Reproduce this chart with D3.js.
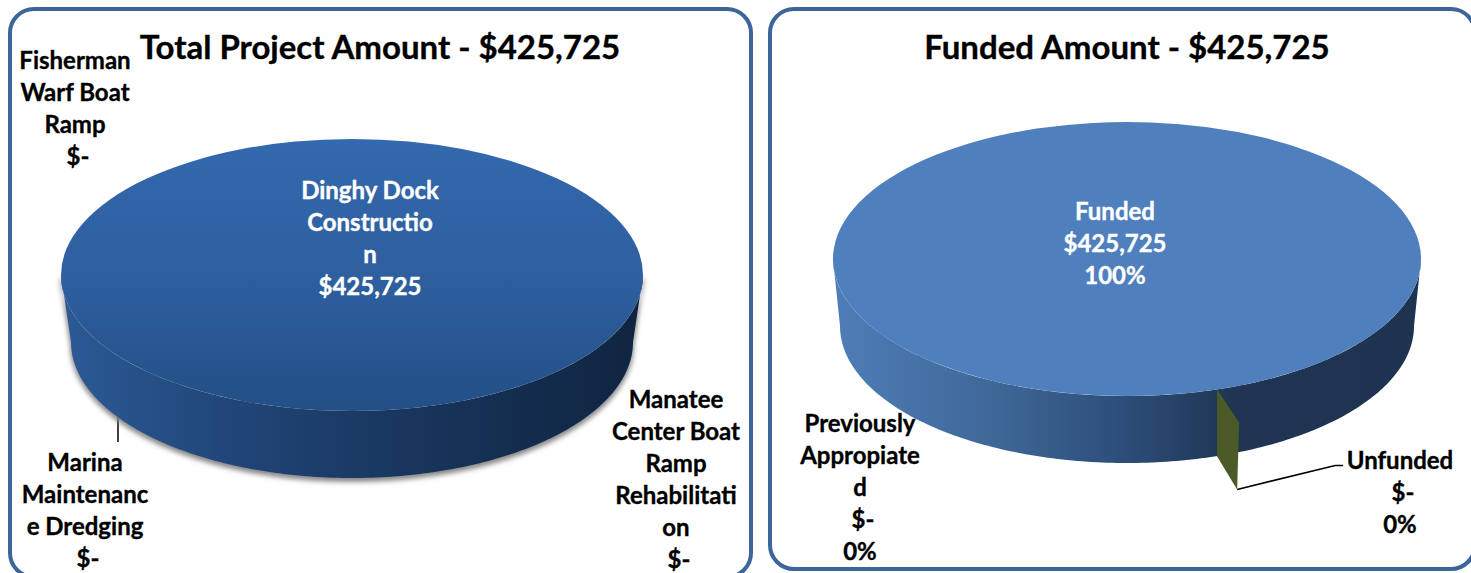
<!DOCTYPE html>
<html>
<head>
<meta charset="utf-8">
<script src="https://cdn.jsdelivr.net/npm/d3@7"></script>
<style>
  html, body { margin: 0; padding: 0; background: #fff; overflow: hidden; }
  text { font-family: Lato, "Open Sans", sans-serif; font-weight: 700; text-anchor: middle; stroke-width: 0.35; }
</style>
</head>
<body>
<div id="chart"></div>
<script>
// values
const projectNames = ["Dinghy Dock Construction", "Manatee Center Boat Ramp Rehabilitation", "Marina Maintenance Dredging", "Fisherman Warf Boat Ramp"];
const projectValues = [425725, 0, 0, 0];
const fundNames = ["Funded", "Unfunded", "Previously Appropiated"];
const fundValues = [425725, 0, 0];

const width = 1471;
const height = 573;

const svg = d3.select("#chart").append("svg")
    .attr("width", width)
    .attr("height", height);

const defs = svg.append("defs");

const addGradient = (id, x2, y2, stops) => {
    const g = defs.append("linearGradient").attr("id", id)
        .attr("x1", 0).attr("y1", 0).attr("x2", x2).attr("y2", y2);
    stops.forEach(s => g.append("stop").attr("offset", s[0]).attr("stop-color", s[1]));
};
addGradient("topLeft", 0, 1, [[0, "#3369ae"], [0.5, "#2e5f9f"], [1, "#234f86"]]);
addGradient("sideLeft", 1, 0, [[0, "#2c5a96"], [0.3, "#204577"], [0.65, "#173358"], [1, "#0f2440"]]);
addGradient("sideRight", 1, 0, [[0, "#4e7db8"], [0.27, "#3f6898"], [0.5, "#2c4d78"], [0.68, "#1f3553"], [1, "#1e3350"]]);
defs.append("filter").attr("id", "blur").append("feGaussianBlur").attr("stdDeviation", 2.5);

// panel frames
const frames = [
    { x: 10, y: 9, w: 741, h: 568 },
    { x: 770, y: 9, w: 705, h: 560 }
];
svg.selectAll("rect.frame")
    .data(frames).enter()
    .append("rect")
    .attr("class", "frame")
    .attr("x", d => d.x).attr("y", d => d.y)
    .attr("width", d => d.w).attr("height", d => d.h)
    .attr("rx", 24)
    .attr("fill", "#fff")
    .attr("stroke", "#3c6699")
    .attr("stroke-width", 4);

// flat pie seen from above: top is a squashed d3.arc, wall is an area along the front rim
const drawPie = (opt) => {
    const g = svg.append("g");
    const slices = d3.pie().sort(null)
        .startAngle(opt.start).endAngle(opt.start + 2 * Math.PI)(opt.values);
    const squash = opt.ry / opt.rx;
    const rx = d3.scaleLinear().domain([-1, 1]).range([opt.cx - opt.rx, opt.cx + opt.rx]);
    const ry = d3.scaleLinear().domain([-1, 1]).range([opt.cy - opt.ry, opt.cy + opt.ry]);
    // bottom rim is a bit narrower, the pie is drawn in perspective
    const rxBottom = d3.scaleLinear().domain([-1, 1]).range([opt.cx - opt.rxBottom, opt.cx + opt.rxBottom]);

    const front = d3.range(0, 181).map(i => Math.PI / 2 + i * Math.PI / 180);
    const wall = d3.area()
        .x0(a => rx(Math.sin(a)))
        .x1(a => rxBottom(Math.sin(a)))
        .y0(a => ry(-Math.cos(a)))
        .y1(a => ry(-Math.cos(a)) + opt.depth);

    if (opt.shadow) {
        g.append("path").datum(front)
            .attr("d", wall)
            .attr("transform", "translate(0,3)")
            .attr("stroke", "#888")
            .attr("stroke-width", 2)
            .attr("fill", "#888")
            .attr("filter", "url(#blur)");
    }
    g.append("path").datum(front)
        .attr("d", wall)
        .attr("fill", `url(#${opt.side})`);

    const arc = d3.arc().innerRadius(0).outerRadius(opt.rx);
    g.append("g")
        .attr("transform", `translate(${opt.cx},${opt.cy}) scale(1,${squash})`)
        .selectAll("path")
        .data(slices).enter()
        .append("path")
        .attr("d", arc)
        .attr("fill", opt.top);

    // zero value slice pokes out of the wall as a thin face
    if (opt.sliver) {
        const a = slices[1].startAngle;
        const px = rx(Math.sin(a));
        const py = ry(-Math.cos(a));
        const d = opt.sliver;
        g.append("path")
            .attr("d", d3.line()([
                [px, py], [px + d.dx, py + d.dy],
                [px + d.dx - 2, py + d.dy + opt.depth], [px, py + opt.depth]
            ]))
            .attr("fill", "#4c5a27");
        const tipX = px + d.dx - 2;
        const tipY = py + d.dy + opt.depth;
        g.append("path")
            .attr("d", d3.line()([[tipX, tipY], [tipX + 98, tipY - 24], [tipX + 106, tipY - 24]]))
            .attr("fill", "none").attr("stroke", "#000").attr("stroke-width", 1.5);
    }
};

// leader line for the Marina label
svg.append("line")
    .attr("x1", 118).attr("y1", 414).attr("x2", 118).attr("y2", 442)
    .attr("stroke", "#000").attr("stroke-width", 1.5);

drawPie({ values: projectValues, start: 0, cx: 352, cy: 275, rx: 291, rxBottom: 281, ry: 136, depth: 67,
    top: "url(#topLeft)", side: "sideLeft", shadow: true });
drawPie({ values: fundValues, start: 2.83, cx: 1127, cy: 259, rx: 294, rxBottom: 287, ry: 137, depth: 67,
    top: "#4f7fbd", side: "sideRight", sliver: { dx: 22, dy: 33 } });

const fmt = v => v === 0 ? "$-" : "$" + d3.format(",")(v);
const pct = (v, total) => d3.format(".0%")(v / total);

const titles = [
    { x: 380, y: 59, t: "Total Project Amount - " + fmt(d3.sum(projectValues)) },
    { x: 1127, y: 59, t: "Funded Amount - " + fmt(d3.sum(fundValues)) }
];
svg.selectAll("text.title")
    .data(titles).enter()
    .append("text")
    .attr("class", "title")
    .attr("x", d => d.x).attr("y", d => d.y)
    .attr("font-size", 33)
    .attr("fill", "#000")
    .attr("stroke", "#000")
    .text(d => d.t);

const fundTotal = d3.sum(fundValues);
// wrapped the way the picture wraps them
const labels = [
    { x: 370, y: 199, c: "#fff", lines: ["Dinghy Dock", "Constructio", "n", fmt(projectValues[0])] },
    { x: 676, y: 408, c: "#000", lines: ["Manatee", "Center Boat", "Ramp", "Rehabilitati", "on", fmt(projectValues[1])] },
    { x: 85, y: 471, c: "#000", lines: ["Marina", "Maintenanc", "e Dredging", fmt(projectValues[2])] },
    { x: 75, y: 69, c: "#000", lines: ["Fisherman", "Warf Boat", "Ramp", fmt(projectValues[3])] },
    { x: 1115, y: 220, c: "#fff", lines: [fundNames[0], fmt(fundValues[0]), pct(fundValues[0], fundTotal)] },
    { x: 1400, y: 469, c: "#000", lines: [fundNames[1], fmt(fundValues[1]), pct(fundValues[1], fundTotal)] },
    { x: 860, y: 432, c: "#000", lines: ["Previously", "Appropiate", "d", fmt(fundValues[2]), pct(fundValues[2], fundTotal)] }
];
svg.selectAll("text.label")
    .data(labels).enter()
    .append("text")
    .attr("class", "label")
    .attr("font-size", 24)
    .attr("fill", d => d.c)
    .attr("stroke", d => d.c)
    .each(function (d) {
        d3.select(this).selectAll("tspan")
            .data(d.lines).enter()
            .append("tspan")
            .attr("x", l => l === "$-" ? d.x + 3 : d.x)
            .attr("y", (l, i) => d.y + i * 32)
            .text(l => l);
    });
</script>
</body>
</html>
